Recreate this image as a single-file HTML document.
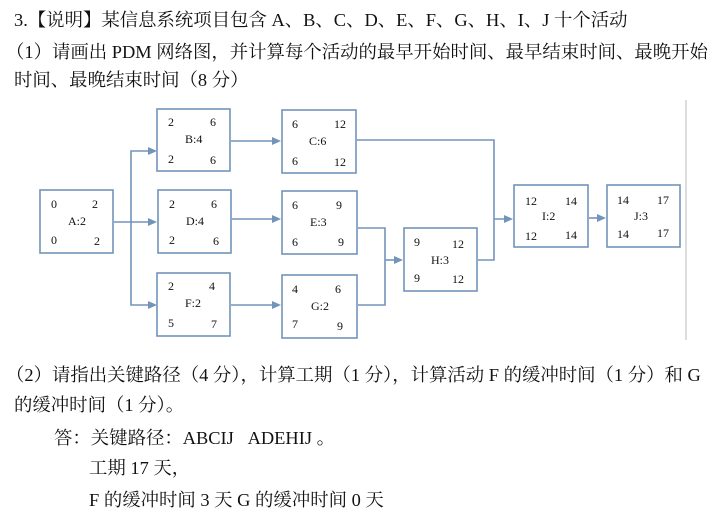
<!DOCTYPE html>
<html><head><meta charset="utf-8"><style>
body{margin:0;width:716px;height:532px;background:#fff;position:relative;overflow:hidden;font-family:"Liberation Serif","Noto Serif CJK SC",serif;color:#111;}
.t{position:absolute;white-space:nowrap;font-size:18.4px;line-height:20px;}
svg{position:absolute;left:0;top:0}
</style></head><body>
<div class="t" style="left:14px;top:10px">3.【说明】某信息系统项目包含 A、B、C、D、E、F、G、H、I、J 十个活动</div>
<div class="t" style="left:6px;top:42px">（1）请画出 PDM 网络图，并计算每个活动的最早开始时间、最早结束时间、最晚开始</div>
<div class="t" style="left:14px;top:70px">时间、最晚结束时间（8 分）</div>
<svg width="716" height="532" viewBox="0 0 716 532">
<line x1="686" y1="100" x2="686" y2="340" stroke="#ddd" stroke-width="2"/>
<g fill="none" stroke="#7294bb" stroke-width="1.6">
<rect x="40" y="190" width="73" height="63"/>
<rect x="157" y="109" width="73" height="62"/>
<rect x="282" y="110" width="74" height="63"/>
<rect x="158" y="190" width="73" height="63"/>
<rect x="282" y="191" width="75" height="63"/>
<rect x="157" y="273" width="73" height="63"/>
<rect x="282" y="275" width="75" height="63"/>
<rect x="404" y="228" width="73" height="63"/>
<rect x="514" y="185" width="74" height="62"/>
<rect x="607" y="185" width="73" height="62"/>
<polyline points="114,222 148,222"/>
<polyline points="148,151 131,151 131,305 148,305"/>
<line x1="231" y1="141" x2="273" y2="141"/>
<line x1="232" y1="219" x2="273" y2="219"/>
<line x1="231" y1="305" x2="273" y2="305"/>
<polyline points="357,140 494,140 494,219 505,219"/>
<polyline points="358,228 385,228 385,305 358,305"/>
<line x1="385" y1="260" x2="395" y2="260"/>
<polyline points="478,260 494,260 494,219"/>
<line x1="589" y1="218" x2="598" y2="218"/>
</g>
<g fill="#7294bb">
<polygon points="157,151 148,147 148,155"/>
<polygon points="157,222 148,218 148,226"/>
<polygon points="157,305 148,301 148,309"/>
<polygon points="281,141 272,137 272,145"/>
<polygon points="281,219 272,215 272,223"/>
<polygon points="281,305 272,301 272,309"/>
<polygon points="403,260 394,256 394,264"/>
<polygon points="513,219 504,215 504,223"/>
<polygon points="606,218 597,214 597,222"/>
</g>
<g font-family="Liberation Serif,serif" font-size="12" fill="#111">
<text x="51" y="208">0</text><text x="92" y="208">2</text><text x="68" y="225">A:2</text><text x="51" y="244">0</text><text x="94" y="245">2</text>
<text x="168" y="126">2</text><text x="210" y="126">6</text><text x="185" y="143">B:4</text><text x="168" y="163">2</text><text x="210" y="164">6</text>
<text x="292" y="128">6</text><text x="334" y="128">12</text><text x="309" y="145">C:6</text><text x="292" y="165">6</text><text x="334" y="166">12</text>
<text x="169" y="208">2</text><text x="211" y="208">6</text><text x="186" y="225">D:4</text><text x="169" y="244">2</text><text x="213" y="245">6</text>
<text x="292" y="209">6</text><text x="336" y="209">9</text><text x="310" y="226">E:3</text><text x="292" y="246">6</text><text x="338" y="246">9</text>
<text x="168" y="290">2</text><text x="209" y="290">4</text><text x="185" y="307">F:2</text><text x="168" y="327">5</text><text x="211" y="328">7</text>
<text x="292" y="293">4</text><text x="335" y="293">6</text><text x="311" y="310">G:2</text><text x="292" y="328">7</text><text x="337" y="330">9</text>
<text x="414" y="246">9</text><text x="452" y="248">12</text><text x="431" y="264">H:3</text><text x="414" y="282">9</text><text x="452" y="283">12</text>
<text x="525" y="205">12</text><text x="565" y="205">14</text><text x="542" y="220">I:2</text><text x="525" y="240">12</text><text x="565" y="239">14</text>
<text x="617" y="204">14</text><text x="657" y="204">17</text><text x="634" y="220">J:3</text><text x="617" y="238">14</text><text x="657" y="237">17</text>
</g>
</svg>
<div class="t" style="left:6px;top:365px">（2）请指出关键路径（4 分），计算工期（1 分），计算活动 F 的缓冲时间（1 分）和 G</div>
<div class="t" style="left:14px;top:395px">的缓冲时间（1 分）。</div>
<div class="t" style="left:54px;top:428px">答：关键路径：ABCIJ&nbsp;&nbsp;&nbsp;ADEHIJ&nbsp;。</div>
<div class="t" style="left:89px;top:458px">工期 17 天，</div>
<div class="t" style="left:89px;top:490px">F 的缓冲时间 3 天 G 的缓冲时间 0 天</div>
</body></html>
